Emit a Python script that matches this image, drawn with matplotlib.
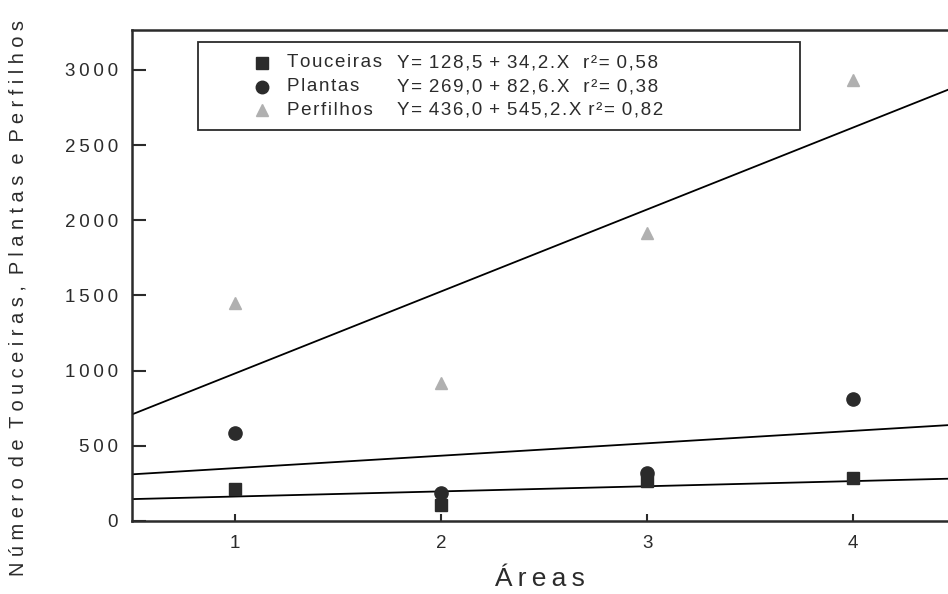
import numpy as np
import matplotlib.pyplot as plt
from matplotlib.patches import Rectangle

plt.rcParams['font.family'] = ['Liberation Sans', 'DejaVu Sans']

areas = [1, 2, 3, 4]
touceiras = [213, 106, 266, 286]
plantas = [585, 186, 319, 812]
perfilhos = [1450, 918, 1916, 2934]

# regression coefficients (intercept, slope) from the legend
coef_tou = (128.5, 34.2)
coef_pla = (269.0, 82.6)
coef_per = (436.0, 545.2)

yticks = [0, 500, 1000, 1500, 2000, 2500, 3000]
names = ['Touceiras', 'Plantas', 'Perfilhos']
equations = ['Y= 128,5 + 34,2.X  r\u00b2= 0,58',
             'Y= 269,0 + 82,6.X  r\u00b2= 0,38',
             'Y= 436,0 + 545,2.X r\u00b2= 0,82']

dark = '#2b2b2b'
light = '#b0b0b0'


def spaced(s, sep=' '):
    # the scanned figure uses wide letter spacing
    words = s.split(' ')
    return (sep + ' ').join(sep.join(w) for w in words)


fig = plt.figure(figsize=(9.48, 5.94), dpi=100)
ax = fig.add_axes([0.1392, 0.1229, 0.8608, 0.8266])

xmin, xmax = 0.5, 4.46
xs = np.array([xmin, xmax])
for a, b in (coef_tou, coef_pla, coef_per):
    ax.plot(xs, a + b * xs, color='black', lw=1.3, zorder=1)

ax.plot(areas, touceiras, 's', color=dark, ms=8.5, zorder=3)
ax.plot(areas, plantas, 'o', color=dark, ms=9.5, zorder=2)
ax.plot(areas, perfilhos, '^', color=light, ms=9, zorder=3)

ax.set_xlim(xmin, xmax)
ax.set_ylim(0, 3265)
ax.set_xticks(areas)
ax.set_xticklabels([str(a) for a in areas])
ax.set_yticks(yticks)
ax.set_yticklabels([spaced(str(v), '\u2009') for v in yticks])
ax.tick_params(axis='x', direction='in', length=5, width=1.5, labelsize=13.5,
               colors=dark, pad=10)
ax.tick_params(axis='y', direction='in', length=10, width=1.5, labelsize=13.5,
               colors=dark, pad=10)
for s in ['left', 'bottom', 'top']:
    ax.spines[s].set_linewidth(1.8)
    ax.spines[s].set_color(dark)
ax.spines['right'].set_visible(False)

ax.set_xlabel(spaced('\u00c1reas', '\u2009'), fontsize=19, color=dark,
              labelpad=11)
ax.set_ylabel(spaced('N\u00famero de Touceiras, Plantas e Perfilhos'),
              fontsize=14.4, color=dark)
ax.yaxis.set_label_coords(-0.128, 0.455)

# legend box
ax.add_patch(Rectangle((0.081, 0.796), 0.738, 0.18, transform=ax.transAxes,
                       fill=False, edgecolor=dark, lw=1.3, zorder=5))
rows = [0.933, 0.884, 0.837]
styles = [('s', dark, 8), ('o', dark, 9), ('^', light, 8)]
for yrow, (m, c, ms), nm, eq in zip(rows, styles, names, equations):
    ax.plot([0.159], [yrow], m, color=c, ms=ms, transform=ax.transAxes,
            clip_on=False, zorder=6)
    ax.text(0.19, yrow, spaced(nm, '\u200a'), transform=ax.transAxes,
            fontsize=13.5, color=dark, va='center', ha='left')
    ax.text(0.325, yrow, spaced(eq, '\u200a'), transform=ax.transAxes,
            fontsize=13.5, color=dark, va='center', ha='left')

fig.savefig('out.png', dpi=100)
